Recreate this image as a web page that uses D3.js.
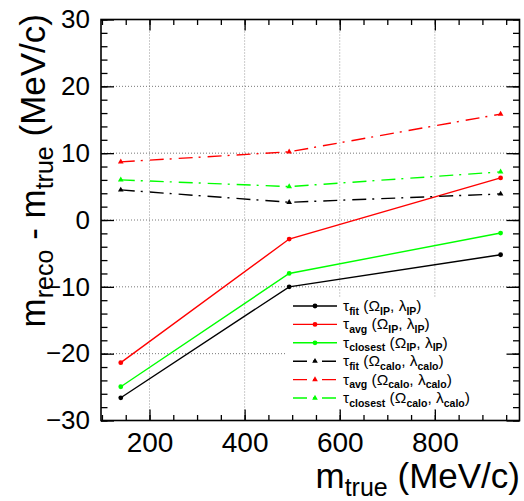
<!DOCTYPE html>
<html><head><meta charset="utf-8">
<script src="https://cdn.jsdelivr.net/npm/d3@7"></script>
<style>
body{margin:0;background:#fff;}
svg{display:block;font-family:"Liberation Sans",Arial,Helvetica,sans-serif;}
</style></head>
<body><svg id="c" width="524" height="501"></svg>
<script>
const massTrue = [139.57, 493.68, 938.27];
const fitIP = [-26.6, -10.0, -5.2];
const avgIP = [-21.35, -2.85, 6.3];
const closestIP = [-24.95, -8.0, -1.95];
const fitCalo = [4.5, 2.65, 3.9];
const avgCalo = [8.7, 10.2, 15.85];
const closestCalo = [6.0, 5.0, 7.2];
const xTicks = [200, 400, 600, 800];
const yTicks = [-30, -20, -10, 0, 10, 20, 30];
const seriesNames = [
  ["fit","IP","IP"],["avg","IP","IP"],["closest","IP","IP"],
  ["fit","calo","calo"],["avg","calo","calo"],["closest","calo","calo"]];
const series = [
  {v: fitIP, c: "#000000", calo: false},
  {v: avgIP, c: "#ff0000", calo: false},
  {v: closestIP, c: "#00ff00", calo: false},
  {v: fitCalo, c: "#000000", calo: true},
  {v: avgCalo, c: "#ff0000", calo: true},
  {v: closestCalo, c: "#00ff00", calo: true}
];

const svg = d3.select("#c");
const L = 101, R = 519.5, T = 19.5, B = 420.5;
const x = d3.scaleLinear().domain([98, 978]).range([L, R]);
const y = d3.scaleLinear().domain([-30, 30]).range([B, T]);
const dash = "14 6 2 7";

// grid
const g = svg.append("g");
g.selectAll("line.gx").data(xTicks).join("line")
  .attr("x1", d => x(d)).attr("x2", d => x(d)).attr("y1", T).attr("y2", B)
  .attr("stroke", "#999").attr("stroke-width", 1).attr("stroke-dasharray", "1 2");
g.selectAll("line.gy").data(yTicks.filter(d => d > -30 && d < 30)).join("line")
  .attr("y1", d => y(d)).attr("y2", d => y(d)).attr("x1", L).attr("x2", R)
  .attr("stroke", "#777").attr("stroke-width", 1).attr("stroke-dasharray", "1 2");

// series
const line = d3.line().x((d, i) => x(massTrue[i])).y(d => y(d));
const tri = d3.symbol().type(d3.symbolTriangle).size(14);
series.forEach(s => {
  svg.append("path").datum(s.v).attr("d", line).attr("fill", "none")
    .attr("stroke", s.c).attr("stroke-width", 1.4)
    .attr("stroke-dasharray", s.calo ? dash : null);
  if (s.calo) {
    svg.append("g").selectAll("path").data(s.v).join("path")
      .attr("d", tri).attr("transform", (d, i) => `translate(${x(massTrue[i])},${y(d)})`)
      .attr("fill", s.c);
  } else {
    svg.append("g").selectAll("circle").data(s.v).join("circle")
      .attr("cx", (d, i) => x(massTrue[i])).attr("cy", d => y(d)).attr("r", 2.4)
      .attr("fill", s.c);
  }
});

// legend
const lg = svg.append("g");
lg.append("rect").attr("x", 285).attr("y", 297).attr("width", 225).attr("height", 112).attr("fill", "#fff");
const rowY = d3.scaleLinear().domain([0, 5]).range([306, 398]);
series.forEach((s, i) => {
  const yy = rowY(i);
  lg.append("line").attr("x1", 293).attr("x2", 337).attr("y1", yy).attr("y2", yy)
    .attr("stroke", s.c).attr("stroke-width", 1.4)
    .attr("stroke-dasharray", s.calo ? dash : null);
  if (s.calo) lg.append("path").attr("d", tri).attr("transform", `translate(315,${yy})`).attr("fill", s.c);
  else lg.append("circle").attr("cx", 315).attr("cy", yy).attr("r", 2.4).attr("fill", s.c);
  const n = seriesNames[i];
  const t = lg.append("text").attr("x", 343).attr("y", yy + 5).attr("font-size", 15.5).attr("fill", "#000");
  const sub = (txt) => { t.append("tspan").attr("font-size", 10.5).attr("font-weight", "bold").attr("dy", 3.5).text(txt); };
  const main = (txt) => { t.append("tspan").attr("dy", -3.5).text(txt); };
  t.append("tspan").text("τ");
  sub(n[0]);
  main(" (Ω");
  sub(n[1]);
  main(", λ");
  sub(n[2]);
  main(")");
});

// axes
const fmt = d => d < 0 ? "\u2212" + Math.abs(d) : String(d);
function styleAxis(sel) {
  sel.select(".domain").remove();
  sel.selectAll(".tick line").attr("stroke", "#000").attr("stroke-width", 1.3);
}
const minorX = d3.range(100, 978, 50);
const minorY = d3.range(-30, 31, 2);
svg.append("g").attr("transform", `translate(0,${B})`)
  .call(d3.axisBottom(x).tickValues(minorX).tickSize(-5.5).tickFormat("")).call(styleAxis);
svg.append("g").attr("transform", `translate(0,${B})`)
  .call(d3.axisBottom(x).tickValues(xTicks).tickSize(-11).tickPadding(12).tickFormat(fmt)).call(styleAxis)
  .selectAll("text").attr("font-size", 28).attr("fill", "#000").attr("font-family", "Liberation Sans, Arial, sans-serif");
svg.append("g").attr("transform", `translate(0,${T})`)
  .call(d3.axisTop(x).tickValues(minorX).tickSize(-5.5).tickFormat("")).call(styleAxis);
svg.append("g").attr("transform", `translate(0,${T})`)
  .call(d3.axisTop(x).tickValues(xTicks).tickSize(-11).tickFormat("")).call(styleAxis);
svg.append("g").attr("transform", `translate(${L},0)`)
  .call(d3.axisLeft(y).tickValues(minorY).tickSize(-6.5).tickFormat("")).call(styleAxis);
svg.append("g").attr("transform", `translate(${L},0)`)
  .call(d3.axisLeft(y).tickValues(yTicks).tickSize(-13).tickPadding(11).tickFormat(fmt)).call(styleAxis)
  .selectAll("text").attr("font-size", 26).attr("fill", "#000").attr("font-family", "Liberation Sans, Arial, sans-serif");
svg.append("g").attr("transform", `translate(${R},0)`)
  .call(d3.axisRight(y).tickValues(minorY).tickSize(-6.5).tickFormat("")).call(styleAxis);
svg.append("g").attr("transform", `translate(${R},0)`)
  .call(d3.axisRight(y).tickValues(yTicks).tickSize(-13).tickFormat("")).call(styleAxis);

// frame
svg.append("rect").attr("x", L).attr("y", T).attr("width", R - L).attr("height", B - T)
  .attr("fill", "none").attr("stroke", "#000").attr("stroke-width", 1.6);

// titles
function title(t, parts) {
  parts.forEach(p => {
    if (p[1] === "sub") t.append("tspan").attr("font-size", 25).attr("dy", 8).text(p[0]);
    else if (p[1] === "up") t.append("tspan").attr("dy", -8).text(p[0]);
    else t.append("tspan").text(p[0]);
  });
}
const xt = svg.append("text").attr("x", 520).attr("y", 488).attr("text-anchor", "end").attr("font-size", 35).attr("fill", "#000");
title(xt, [["m", "n"], ["true", "sub"], [" (MeV/c)", "up"]]);
const yt = svg.append("text").attr("transform", "translate(45,14) rotate(-90)").attr("text-anchor", "end").attr("font-size", 35).attr("fill", "#000");
title(yt, [["m", "n"], ["reco", "sub"], [" - m", "up"], ["true", "sub"], [" (MeV/c)", "up"]]);
</script></body></html>
